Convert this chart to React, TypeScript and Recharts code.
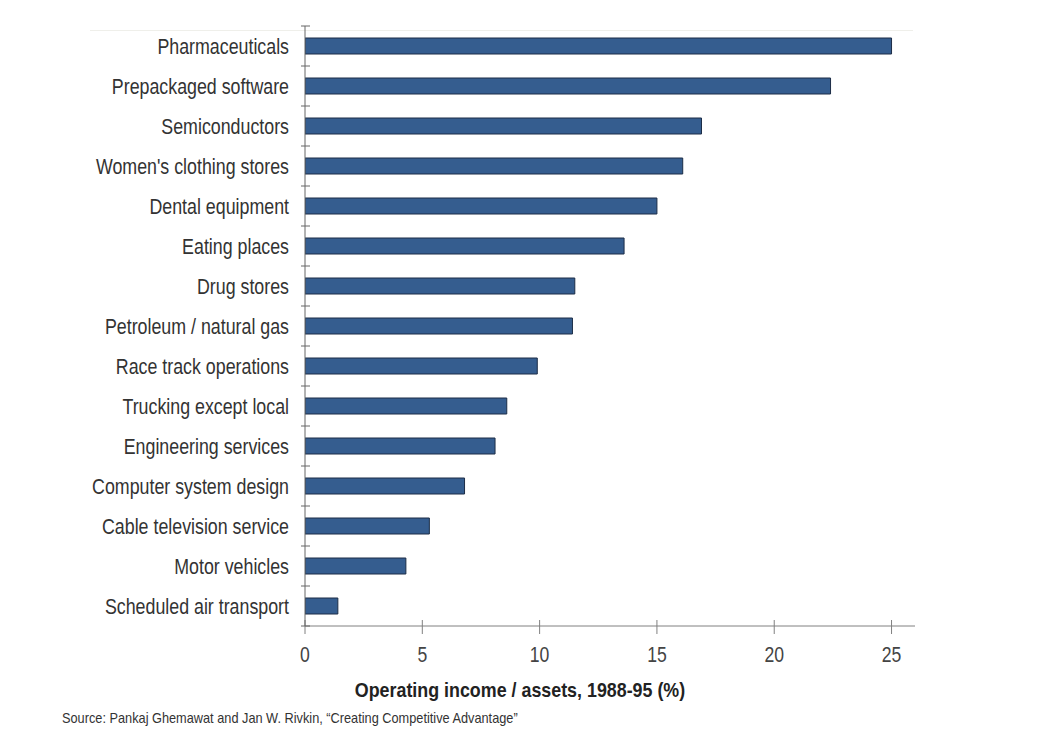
import React from "react";
import { BarChart, Bar, XAxis, YAxis } from "recharts";

const categories = [
  "Pharmaceuticals",
  "Prepackaged software",
  "Semiconductors",
  "Women's clothing stores",
  "Dental equipment",
  "Eating places",
  "Drug stores",
  "Petroleum / natural gas",
  "Race track operations",
  "Trucking except local",
  "Engineering services",
  "Computer system design",
  "Cable television service",
  "Motor vehicles",
  "Scheduled air transport",
];
const values = [25.0, 22.4, 16.9, 16.1, 15.0, 13.6, 11.5, 11.4, 9.9, 8.6, 8.1, 6.8, 5.3, 4.3, 1.4];
const xTicks = [0, 5, 10, 15, 20, 25];
const axisTitle = "Operating income / assets, 1988-95 (%)";
const sourceText = "Source:  Pankaj Ghemawat and Jan W. Rivkin, \u201cCreating Competitive Advantage\u201d";

const data = categories.map((name, i) => ({ name, value: values[i] }));

const FONT = "'Liberation Sans', Arial, sans-serif";
const Y_TICK_MARGIN = 16;

const CatTick = (props: any) => {
  const { x, y, payload, index, visibleTicksCount } = props;
  const half = payload && payload.offset ? payload.offset : 0;
  const ax = x + Y_TICK_MARGIN;
  const isLast = index === visibleTicksCount - 1;
  return (
    <g>
      <line x1={ax - 4} x2={ax + 5} y1={y - half} y2={y - half} stroke="#666666" strokeWidth={1} />
      {isLast ? (
        <line x1={ax - 4} x2={ax + 5} y1={y + half} y2={y + half} stroke="#666666" strokeWidth={1} />
      ) : null}
      <text
        x={0}
        y={0}
        dy="0.355em"
        transform={`translate(${x},${y}) scale(0.81,1)`}
        textAnchor="end"
        fontSize={22}
        fontFamily={FONT}
        fill="#333333"
      >
        {payload.value}
      </text>
    </g>
  );
};

const NumTick = (props: any) => {
  const { x, y, payload } = props;
  return (
    <text
      x={0}
      y={0}
      dy="0.71em"
      transform={`translate(${x},${y}) scale(0.8,1)`}
      textAnchor="middle"
      fontSize={22}
      fontFamily={FONT}
      fill="#444444"
    >
      {payload.value}
    </text>
  );
};

export default function App() {
  return (
    <div style={{ position: "absolute", left: 0, top: 0, width: 1042, height: 756, background: "#ffffff" }}>
      <div style={{ position: "absolute", left: 90, top: 30, width: 823, height: 1, background: "#efefea" }} />
      <BarChart
        width={1042}
        height={756}
        data={data}
        layout="vertical"
        margin={{ top: 26, right: 127, bottom: 100, left: 0 }}
        barCategoryGap={0}
      >
        <XAxis
          type="number"
          domain={[0, 26]}
          ticks={xTicks}
          allowDataOverflow
          height={30}
          stroke="#808080"
          tickSize={14}
          tickMargin={6}
          tickLine={{ stroke: "#808080", transform: "translate(0,-6)" }}
          tick={<NumTick />}
        />
        <YAxis
          type="category"
          dataKey="name"
          width={305}
          axisLine={{ stroke: "#666666" }}
          tickLine={false}
          tickSize={0}
          tickMargin={Y_TICK_MARGIN}
          tick={<CatTick />}
          interval={0}
        />
        <Bar
          dataKey="value"
          barSize={16}
          fill="#355d8f"
          stroke="#1c2d47"
          strokeWidth={1}
          isAnimationActive={false}
        />
      </BarChart>
      <div
        style={{
          position: "absolute",
          left: 220,
          width: 600,
          top: 677,
          textAlign: "center",
          fontFamily: FONT,
          fontWeight: "bold",
          fontSize: 21,
          color: "#222222",
          transform: "scaleX(0.85)",
          transformOrigin: "center top",
          whiteSpace: "nowrap",
          lineHeight: "26px",
        }}
      >
        {axisTitle}
      </div>
      <div
        style={{
          position: "absolute",
          left: 62,
          top: 709,
          fontFamily: FONT,
          fontSize: 15,
          color: "#333333",
          transform: "scaleX(0.85)",
          transformOrigin: "0 0",
          whiteSpace: "nowrap",
          lineHeight: "18px",
        }}
      >
        {sourceText}
      </div>
    </div>
  );
}
